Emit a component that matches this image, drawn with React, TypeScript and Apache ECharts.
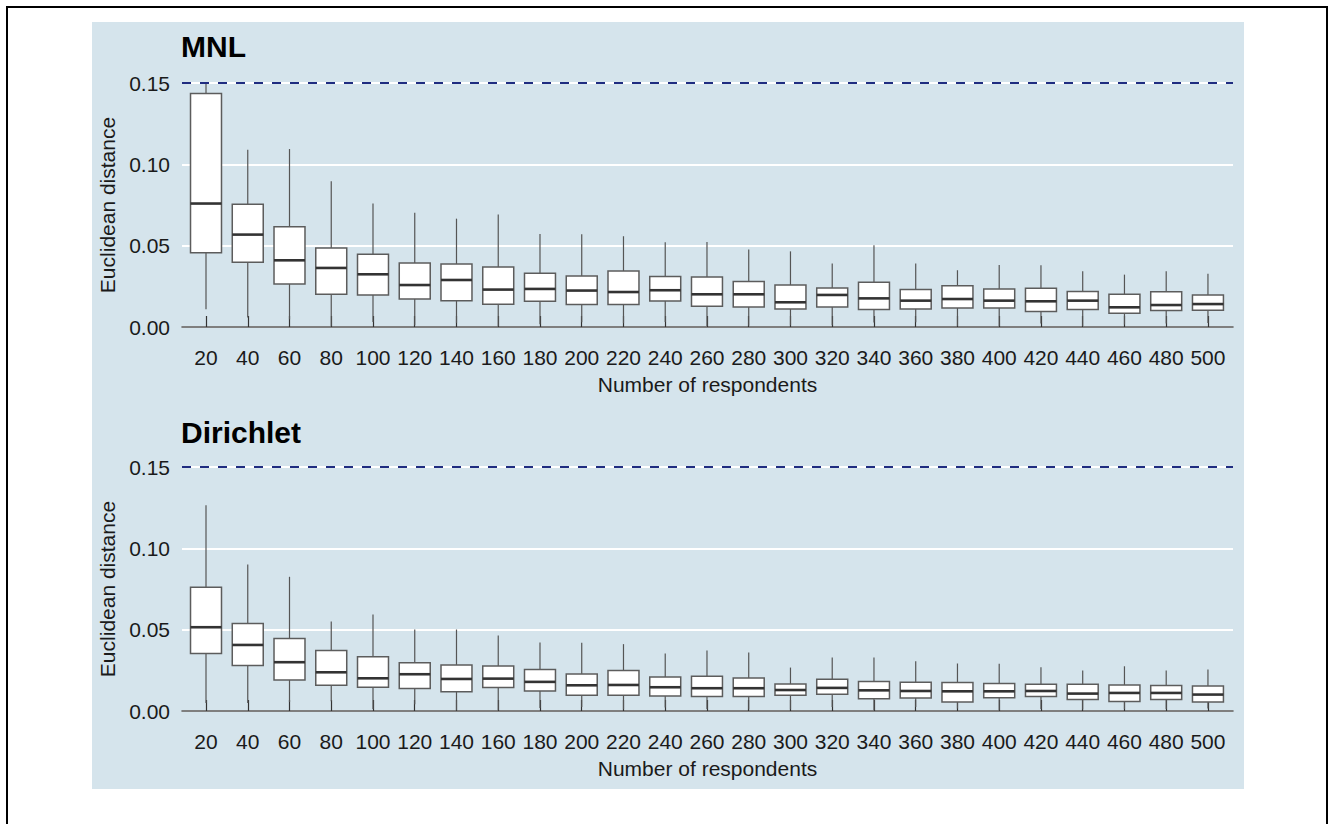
import React, { useEffect, useRef } from "react";
import * as echarts from "echarts";

const categories = [20, 40, 60, 80, 100, 120, 140, 160, 180, 200, 220, 240, 260, 280, 300, 320, 340, 360, 380, 400, 420, 440, 460, 480, 500];
const yTicks = [0, 0.05, 0.1, 0.15];

// MNL
const mnlMin = [0.0109, 0.0058, 0.0047, 0.0004, 0.0031, 0.0010, 0.0025, 0.0004, 0.0017, 0.0029, 0.0023, 0.0031, 0.0006, 0.0008, 0.0010, 0.0010, 0.0027, 0.0029, 0.0006, 0.0006, 0.0021, 0.0006, 0.0015, 0.0021, 0.0025];
const mnlQ1 = [0.0457, 0.0398, 0.0264, 0.0201, 0.0197, 0.0172, 0.0162, 0.0140, 0.0158, 0.0138, 0.0138, 0.0160, 0.0127, 0.0123, 0.0111, 0.0123, 0.0107, 0.0111, 0.0117, 0.0117, 0.0095, 0.0107, 0.0084, 0.0101, 0.0103];
const mnlMed = [0.0759, 0.0568, 0.0410, 0.0363, 0.0324, 0.0258, 0.0289, 0.0230, 0.0234, 0.0224, 0.0215, 0.0226, 0.0201, 0.0201, 0.0152, 0.0197, 0.0176, 0.0162, 0.0172, 0.0162, 0.0158, 0.0162, 0.0121, 0.0135, 0.0141];
const mnlQ3 = [0.1435, 0.0754, 0.0617, 0.0486, 0.0447, 0.0393, 0.0387, 0.0369, 0.0330, 0.0314, 0.0344, 0.0310, 0.0307, 0.0279, 0.0258, 0.0240, 0.0275, 0.0230, 0.0254, 0.0234, 0.0238, 0.0219, 0.0201, 0.0217, 0.0197];
const mnlMax = [0.1500, 0.1090, 0.1094, 0.0896, 0.0759, 0.0703, 0.0666, 0.0691, 0.0572, 0.0570, 0.0558, 0.0521, 0.0523, 0.0476, 0.0465, 0.0390, 0.0502, 0.0390, 0.0349, 0.0381, 0.0379, 0.0342, 0.0322, 0.0342, 0.0328];

// Dirichlet
const dirMin = [0.0049, 0.0049, 0.0055, 0.0060, 0.0012, 0.0041, 0.0004, 0.0004, 0.0019, 0.0025, 0.0010, 0.0021, 0.0012, 0.0009, 0.0010, 0.0025, 0.0004, 0.0025, 0.0015, 0.0004, 0.0012, 0.0009, 0.0012, 0.0012, 0.0015];
const dirQ1 = [0.0353, 0.0280, 0.0191, 0.0158, 0.0146, 0.0138, 0.0119, 0.0144, 0.0123, 0.0097, 0.0097, 0.0092, 0.0089, 0.0089, 0.0097, 0.0103, 0.0076, 0.0080, 0.0055, 0.0082, 0.0089, 0.0070, 0.0058, 0.0070, 0.0055];
const dirMed = [0.0515, 0.0406, 0.0300, 0.0238, 0.0201, 0.0226, 0.0197, 0.0199, 0.0179, 0.0158, 0.0160, 0.0146, 0.0140, 0.0140, 0.0129, 0.0142, 0.0127, 0.0123, 0.0121, 0.0121, 0.0123, 0.0107, 0.0111, 0.0111, 0.0101];
const dirQ3 = [0.0760, 0.0538, 0.0446, 0.0372, 0.0333, 0.0296, 0.0283, 0.0277, 0.0255, 0.0228, 0.0249, 0.0209, 0.0214, 0.0203, 0.0166, 0.0195, 0.0181, 0.0177, 0.0175, 0.0169, 0.0164, 0.0164, 0.0160, 0.0156, 0.0154];
const dirMax = [0.1265, 0.0901, 0.0825, 0.0550, 0.0594, 0.0501, 0.0501, 0.0464, 0.0421, 0.0419, 0.0411, 0.0353, 0.0372, 0.0360, 0.0267, 0.0329, 0.0329, 0.0306, 0.0292, 0.0290, 0.0269, 0.0249, 0.0275, 0.0249, 0.0255];

const panelTitles = ["MNL", "Dirichlet"];
const referenceLine = 0.15;

const FONT = "'Liberation Sans', Arial, Helvetica, sans-serif";
const BG = "#d5e4ec";

function rows(mn: number[], q1: number[], md: number[], q3: number[], mx: number[]) {
  return categories.map((c, i) => [c, mn[i], q1[i], md[i], q3[i], mx[i]]);
}

function renderBox(params: any, api: any) {
  const x = api.value(0);
  const pMin = api.coord([x, api.value(1)]);
  const pQ1 = api.coord([x, api.value(2)]);
  const pMed = api.coord([x, api.value(3)]);
  const pQ3 = api.coord([x, api.value(4)]);
  const pMax = api.coord([x, api.value(5)]);
  const w = api.size([20, 0])[0] * 0.742;
  const cx = pMed[0];
  const whisker = { stroke: "#555", lineWidth: 1.2 };
  return {
    type: "group",
    children: [
      { type: "line", shape: { x1: cx, y1: pMax[1], x2: cx, y2: pQ3[1] }, style: whisker },
      { type: "line", shape: { x1: cx, y1: pQ1[1], x2: cx, y2: pMin[1] }, style: whisker },
      {
        type: "rect",
        shape: { x: cx - w / 2, y: pQ3[1], width: w, height: pQ1[1] - pQ3[1] },
        style: { fill: "#ffffff", stroke: "#5c5c5c", lineWidth: 1.5 },
      },
      {
        type: "line",
        shape: { x1: cx - w / 2, y1: pMed[1], x2: cx + w / 2, y2: pMed[1] },
        style: { stroke: "#333333", lineWidth: 2.6 },
      },
    ],
  };
}

export default function App() {
  const ref = useRef<HTMLDivElement>(null);
  useEffect(() => {
    document.body.style.margin = "0";
    if (!ref.current) return;
    const chart = echarts.init(ref.current, null, { renderer: "svg" });

    const gridTops = [83, 467];
    const datasets = [
      rows(mnlMin, mnlQ1, mnlMed, mnlQ3, mnlMax),
      rows(dirMin, dirQ1, dirMed, dirQ3, dirMax),
    ];

    const grids = gridTops.map((t) => ({ left: 182, width: 1051, top: t, height: 244 }));

    const xAxes = [0, 1].map((i) => ({
      type: "value",
      gridIndex: i,
      min: 8.5,
      max: 512,
      offset: 12,
      name: "Number of respondents",
      nameLocation: "middle",
      nameGap: 35,
      nameTextStyle: { fontFamily: FONT, fontSize: 21, color: "#1a1a1a" },
      axisLine: { show: true, lineStyle: { color: "#555", width: 1.5 } },
      axisTick: { show: true, inside: true, length: 11, customValues: categories, lineStyle: { color: "#333", width: 1.2 } },
      axisLabel: { show: true, customValues: categories, margin: 8, fontFamily: FONT, fontSize: 21, color: "#1a1a1a" },
      splitLine: { show: false },
    }));

    const yAxes = [0, 1].map((i) => ({
      type: "value",
      gridIndex: i,
      min: 0,
      max: 0.15,
      interval: 0.05,
      name: "Euclidean distance",
      nameLocation: "middle",
      nameGap: 61,
      nameTextStyle: { fontFamily: FONT, fontSize: 21, color: "#1a1a1a" },
      axisLine: { show: false },
      axisTick: { show: false },
      axisLabel: {
        show: true,
        margin: 12,
        fontFamily: FONT,
        fontSize: 21,
        color: "#1a1a1a",
        formatter: (v: number) => v.toFixed(2),
      },
      splitLine: { show: true, lineStyle: { color: "#ffffff", width: 2 } },
    }));

    const series = [0, 1].map((i) => ({
      type: "custom",
      xAxisIndex: i,
      yAxisIndex: i,
      clip: false,
      renderItem: renderBox,
      encode: { x: 0, y: [1, 2, 3, 4, 5] },
      data: datasets[i],
      markLine: {
        silent: true,
        symbol: ["none", "none"],
        label: { show: false },
        lineStyle: { color: "#1f2c80", type: [9, 9], width: 2 },
        data: [{ yAxis: referenceLine }],
      },
    }));

    chart.setOption({
      animation: false,
      backgroundColor: "#ffffff",
      graphic: [
        {
          type: "rect",
          z: -10,
          shape: { x: 7, y: 7, width: 1320, height: 840 },
          style: { fill: "#ffffff", stroke: "#000000", lineWidth: 2 },
          silent: true,
        },
        {
          type: "rect",
          z: -9,
          shape: { x: 92, y: 22, width: 1152, height: 767 },
          style: { fill: BG },
          silent: true,
        },
        {
          type: "text",
          x: 181,
          y: 46.5,
          style: { text: panelTitles[0], font: `bold 30px ${FONT}`, fill: "#000", verticalAlign: "middle" },
        },
        {
          type: "text",
          x: 181,
          y: 432,
          style: { text: panelTitles[1], font: `bold 30px ${FONT}`, fill: "#000", verticalAlign: "middle" },
        },
      ],
      grid: grids,
      xAxis: xAxes,
      yAxis: yAxes,
      series,
    } as any);

    return () => chart.dispose();
  }, []);

  return <div ref={ref} style={{ width: 1329, height: 824 }} />;
}
